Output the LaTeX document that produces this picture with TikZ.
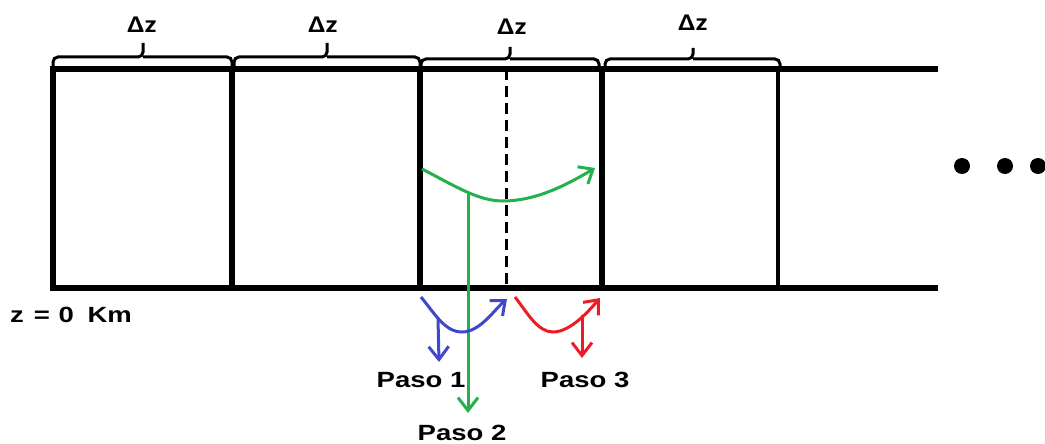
\documentclass[tikz,border=0pt]{standalone}
\usepackage{fontspec}
\usepackage{graphicx}
\setmainfont{Liberation Sans}
\newfontfamily\dzfont{Carlito}
\usetikzlibrary{arrows.meta}
\definecolor{pgreen}{RGB}{34,177,76}
\definecolor{pblue}{RGB}{63,72,204}
\definecolor{pred}{RGB}{237,28,36}
\tikzset{
  wall/.style={line width=5.5pt, line join=miter},
  thinwall/.style={line width=4.5pt},
  bracestyle/.style={line width=3pt, rounded corners=5pt},
  ray/.style={line width=3pt, -{Straight Barb[length=12pt,width=20pt]}},
  branch/.style={line width=3pt, -{Straight Barb[length=13pt,width=20pt]}},
  lbl/.style={font=\fontsize{22}{26}\selectfont\bfseries, inner sep=0pt},
  dz/.style={font=\dzfont\fontsize{24}{28}\selectfont\bfseries, inner sep=0pt},
  dashwall/.style={line width=3pt, dash pattern=on 11pt off 6pt},
}
\newcommand{\wide}[1]{\scalebox{1.25}[1]{#1}}
\begin{document}
\begin{tikzpicture}[x=1pt,y=-1pt]
\useasboundingbox (0,0) rectangle (1045,444);
% frame
\coordinate (tr) at (938,69);
\coordinate (tl) at (53,69);
\coordinate (bl) at (53,288);
\coordinate (br) at (938,288);
\draw[wall] (tr) -- (tl) -- (bl) -- (br);
\foreach \x/\n in {232/a,420/b,602/c}{
  \coordinate (t\n) at (\x,69);
  \coordinate (b\n) at (\x,288);
  \draw[wall] (t\n) -- (b\n);
}
\coordinate (td) at (778,69);
\coordinate (bd) at (778,288);
\draw[thinwall] (td) -- (bd);
% dashed middle
\coordinate (dt) at (506,69);
\coordinate (db) at (506,288);
\draw[dashwall] (dt) -- (db);
% braces
\foreach \xa/\xm/\xb/\yh/\yt in {53/143/232/57/43, 234/327/420/57/43, 421/510/599/59/47, 605/693/780/59/48}{
  \draw[bracestyle] (\xa,67) |- (\xm,\yh) -- (\xm,\yt);
  \draw[bracestyle] (\xm,\yh) -| (\xb,67);
}
\node[dz] (dz1) at (142,25) {\wide{Δz}};
\node[dz] (dz2) at (323,25) {\wide{Δz}};
\node[dz] (dz3) at (512,27) {\wide{Δz}};
\node[dz] (dz4) at (693,23) {\wide{Δz}};
% dots
\foreach \x in {962,1005,1038}{ \fill (\x,166) circle (8pt); }
% z label
\node[lbl] (zlbl) at (71,315) {\wide{z\hspace{8pt}=\hspace{7pt}0\hspace{11pt}Km}};
% green
\coordinate (g0) at (422,169);
\coordinate (gm) at (503,201);
\coordinate (g1) at (595,168);
\draw[pgreen, ray] (g0) .. controls (455,186) and (478,201) .. (gm) .. controls (535,201) and (565,186) .. (g1);
\coordinate (gs) at (468,192);
\coordinate (ge) at (468,413);
\draw[pgreen, branch] (gs) -- (ge);
% blue
\coordinate (u0) at (421,297);
\coordinate (um) at (462,332);
\coordinate (u1) at (507,299);
\draw[pblue, ray] (u0) .. controls (435,314) and (445,332) .. (um) .. controls (480,332) and (494,310) .. (u1);
\coordinate (us) at (438,318);
\coordinate (ue) at (439,362);
\draw[pblue, branch] (us) -- (ue);
% red
\coordinate (r0) at (515,297);
\coordinate (rm) at (553,332);
\coordinate (r1) at (600,298);
\draw[pred, ray] (r0) .. controls (528,314) and (538,332) .. (rm) .. controls (570,332) and (588,312) .. (r1);
\coordinate (rs) at (582,315);
\coordinate (re) at (582,358);
\draw[pred, branch] (rs) -- (re);
% labels
\node[lbl] (p1) at (421,380) {\wide{Paso 1}};
\node[lbl] (p2) at (462,433) {\wide{Paso 2}};
\node[lbl] (p3) at (585,380) {\wide{Paso 3}};
\end{tikzpicture}
\end{document}
